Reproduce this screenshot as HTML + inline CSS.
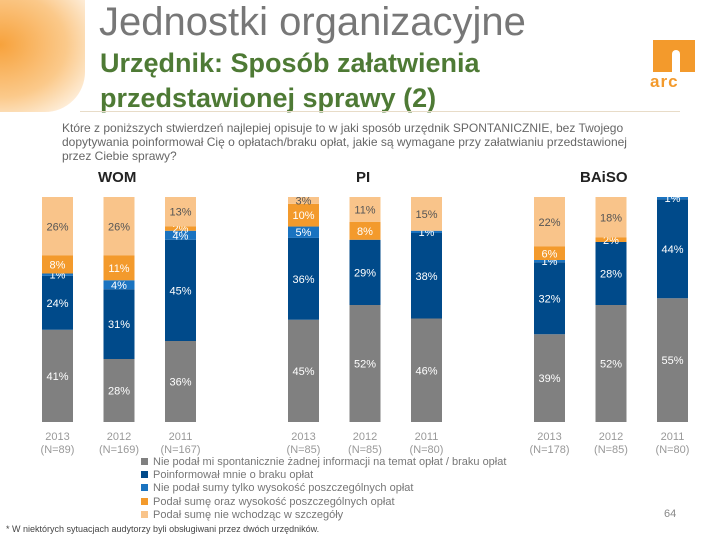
<!DOCTYPE html>
<html><head><meta charset="utf-8"><style>
body{margin:0;width:720px;height:540px;overflow:hidden;background:#fff;font-family:"Liberation Sans",sans-serif;position:relative}
.abs{position:absolute;white-space:nowrap}
</style></head><body>
<div class="abs" style="left:0;top:0;width:85px;height:112px;background:radial-gradient(ellipse at 0% 40%,#f7a23c 0%,#fbc98a 55%,#fff 100%);border-bottom-right-radius:40px"></div>
<div class="abs" style="left:99px;top:0px;font-size:40px;color:#777">Jednostki organizacyjne</div>
<div class="abs" style="left:100px;top:46px;font-size:27px;line-height:35px;color:#4e7a35;font-weight:bold">Urzędnik: Sposób załatwienia<br>przedstawionej sprawy (2)</div>
<div class="abs" style="left:80px;top:111px;width:600px;height:1px;background:#e8dcc8"></div>
<div class="abs" style="left:650px;top:40px;width:50px;height:55px">
<div style="position:absolute;left:3px;top:0;width:42px;height:32px;background:#f39a2c"></div>
<div style="position:absolute;left:22px;top:10px;width:8px;height:22px;background:#fff;border-radius:4px 4px 0 0"></div>
<div style="position:absolute;left:0;top:32px;font-size:17px;color:#f39a2c;font-weight:bold;letter-spacing:1px">arc</div>
</div>
<div class="abs" style="left:62px;top:121px;font-size:12px;line-height:14px;color:#666;font-family:'Liberation Sans Narrow','Liberation Sans',sans-serif;transform-origin:0 0">Które z poniższych stwierdzeń najlepiej opisuje to w jaki sposób urzędnik SPONTANICZNIE, bez Twojego<br>dopytywania poinformował Cię o opłatach/braku opłat, jakie są wymagane przy załatwianiu przedstawionej<br>przez Ciebie sprawy?</div>
<div class="abs" style="left:98px;top:169px;font-size:15px;font-weight:bold;color:#222">WOM</div>
<div class="abs" style="left:356px;top:169px;font-size:15px;font-weight:bold;color:#222">PI</div>
<div class="abs" style="left:580px;top:169px;font-size:15px;font-weight:bold;color:#222">BAiSO</div>
<svg id="chart" class="abs" style="left:0;top:0" width="720" height="540"></svg>
<div class="abs" style="left:141px;top:456px;font-size:11px;line-height:13.2px;color:#777">
<div><span style="display:inline-block;width:7px;height:7px;background:#808080;margin-right:5px"></span>Nie podał mi spontanicznie żadnej informacji na temat opłat / braku opłat</div>
<div><span style="display:inline-block;width:7px;height:7px;background:#004a8a;margin-right:5px"></span>Poinformował mnie o braku opłat</div>
<div><span style="display:inline-block;width:7px;height:7px;background:#1a73c0;margin-right:5px"></span>Nie podał sumy tylko wysokość poszczególnych opłat</div>
<div><span style="display:inline-block;width:7px;height:7px;background:#f39a2c;margin-right:5px"></span>Podał sumę oraz wysokość poszczególnych opłat</div>
<div><span style="display:inline-block;width:7px;height:7px;background:#f9c48a;margin-right:5px"></span>Podał sumę nie wchodząc w szczegóły</div>
</div>
<div class="abs" style="left:664px;top:508px;font-size:11px;color:#888">64</div>
<div class="abs" style="left:6px;top:524px;font-size:9px;color:#444">* W niektórych sytuacjach audytorzy byli obsługiwani przez dwóch urzędników.</div>
<script>
const categories=["2013","2012","2011","2013","2012","2011","2013","2012","2011"];
const sampleSizes=["(N=89)","(N=169)","(N=167)","(N=85)","(N=85)","(N=80)","(N=178)","(N=85)","(N=80)"];
const noInfo=[41,28,36,45,52,46,39,52,55];
const noFees=[24,31,45,36,29,38,32,28,44];
const individualFees=[1,4,4,5,0,1,1,0,1];
const sumAndFees=[8,11,2,10,8,0,6,2,0];
const sumOnly=[26,26,13,3,11,15,22,18,0];
const series=[noInfo,noFees,individualFees,sumAndFees,sumOnly];
const colors=["#808080","#004a8a","#1a73c0","#f39a2c","#f9c48a"];
const textColors=["#fff","#fff","#fff","#fff","#555"];
const seriesNames=["no-info","no-fees","individual-fees","sum-and-fees","sum-only"];
const ns="http://www.w3.org/2000/svg";
const svg=document.getElementById("chart");
const top0=197,bottom0=422,barW=31;
function xPos(i){const g=Math.floor(i/3),k=i%3;return [42,288,534][g]+k*61.5;}
function yScale(v,total){return bottom0-(v/total)*(bottom0-top0);}
for(let i=0;i<categories.length;i++){
  let total=0;series.forEach(s=>total+=s[i]);
  let acc=0;const x=xPos(i);
  series.forEach((s,j)=>{
    const v=s[i];if(v<=0)return;
    const y1=yScale(acc+v,total),y0=yScale(acc,total);
    const r=document.createElementNS(ns,"rect");
    r.setAttribute("x",x);r.setAttribute("y",y1);r.setAttribute("width",barW);r.setAttribute("height",y0-y1);r.setAttribute("fill",colors[j]);
    
    
    svg.appendChild(r);
    const t=document.createElementNS(ns,"text");
    t.setAttribute("x",x+barW/2);t.setAttribute("y",(y0+y1)/2+4);t.setAttribute("text-anchor","middle");
    t.setAttribute("font-size","11");t.setAttribute("fill",textColors[j]);t.setAttribute("font-family","Liberation Sans, sans-serif");
    t.textContent=v+"%";
    
    
    svg.appendChild(t);
    acc+=v;
  });
  [categories[i],sampleSizes[i]].forEach((s,k)=>{
    const t=document.createElementNS(ns,"text");
    t.setAttribute("x",x+barW/2);t.setAttribute("y",440+k*13);t.setAttribute("text-anchor","middle");
    t.setAttribute("font-size","11");t.setAttribute("fill","#999");t.setAttribute("font-family","Liberation Sans, sans-serif");
    t.textContent=s;
    
    
    svg.appendChild(t);
  });
}
</script>
</body></html>
